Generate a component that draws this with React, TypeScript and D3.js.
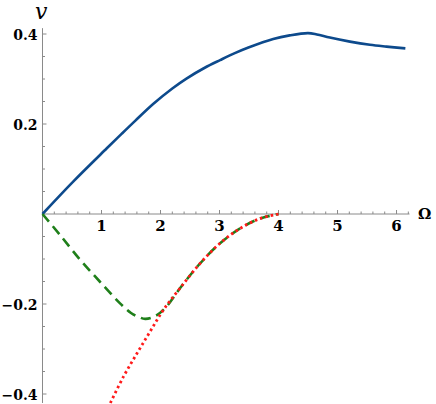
import React from 'react';
import * as d3 from 'd3';

// blue curve
const omegaBlue = [0, 0.52, 1.09, 1.34, 1.57, 1.88, 2.2, 2.44, 2.75, 3.01, 3.25, 3.49, 3.91, 4.19, 4.5, 4.65, 4.87, 5.21, 5.55, 5.83, 6.15];
const vBlue = [0, 0.072, 0.146, 0.178, 0.207, 0.245, 0.279, 0.301, 0.325, 0.342, 0.357, 0.37, 0.389, 0.397, 0.402, 0.399, 0.392, 0.383, 0.376, 0.372, 0.368];

// green dashed curve
const omegaGreen = [0, 0.3, 0.64, 0.97, 1.31, 1.5, 1.6, 1.74, 1.91, 2.1, 2.33, 2.67, 3.01, 3.35, 3.69, 4.0];
const vGreen = [0, -0.047, -0.102, -0.15, -0.198, -0.22, -0.227, -0.233, -0.227, -0.206, -0.165, -0.11, -0.065, -0.032, -0.01, 0];

// red dotted curve
const omegaRed = [1.15, 1.37, 1.6, 1.82, 2.05, 2.33, 2.67, 3.01, 3.35, 3.69, 4.0];
const vRed = [-0.42, -0.362, -0.31, -0.262, -0.213, -0.165, -0.11, -0.065, -0.032, -0.01, 0];

const xTicks = [1, 2, 3, 4, 5, 6];
const yTicks = [-0.4, -0.2, 0.2, 0.4];

const W = 436;
const H = 404;

const App = () => {
    const x = d3.scaleLinear().domain([0, 6.22]).range([42.5, 409.5]);
    const y = d3.scaleLinear().domain([-0.4, 0.4]).range([394, 34]);

    const line = d3.line<[number, number]>()
        .x(d => x(d[0]))
        .y(d => y(d[1]))
        .curve(d3.curveCatmullRom.alpha(0.5));

    const zip = (a: number[], b: number[]) => a.map((v, i) => [v, b[i]] as [number, number]);

    // minor ticks
    const xMinor = d3.range(1, 32).map(i => i * 0.2).filter(v => Math.abs(v - Math.round(v)) > 0.01);
    const yMinor = d3.range(-8, 9).map(i => i * 0.05).filter(v => Math.abs(v * 5 - Math.round(v * 5)) > 0.01);

    const axisColor = '#8a8a8a';
    const font = "'DejaVu Serif', serif";

    return (
        <svg width={W} height={H} style={{ position: 'absolute', left: 0, top: 0 }}>
            <rect width={W} height={H} fill="#fff" />
            {/* axes */}
            <line x1={x(0)} x2={x(6.22)} y1={y(0)} y2={y(0)} stroke={axisColor} strokeWidth={1} />
            <line x1={x(0)} x2={x(0)} y1={y(0.413)} y2={y(-0.42)} stroke={axisColor} strokeWidth={1} />
            {xMinor.map(t => (
                <line key={'xm' + t} x1={x(t)} x2={x(t)} y1={y(0)} y2={y(0) - 2.5} stroke={axisColor} />
            ))}
            {xTicks.map(t => (
                <g key={'x' + t}>
                    <line x1={x(t)} x2={x(t)} y1={y(0)} y2={y(0) - 4} stroke={axisColor} />
                    <text x={x(t)} y={y(0) + 17} textAnchor="middle" style={{ fontFamily: font }} fontWeight="bold" fontSize={15}>{t}</text>
                </g>
            ))}
            {yMinor.map(t => (
                <line key={'ym' + t} x1={x(0)} x2={x(0) + 2.5} y1={y(t)} y2={y(t)} stroke={axisColor} />
            ))}
            {yTicks.map(t => (
                <g key={'y' + t}>
                    <line x1={x(0)} x2={x(0) + 4} y1={y(t)} y2={y(t)} stroke={axisColor} />
                    <text x={x(0) - 5} y={y(t) + 5.5} textAnchor="end" style={{ fontFamily: font }} fontWeight="bold" fontSize={14}>
                        {t < 0 ? '\u2212' + Math.abs(t).toFixed(1) : t.toFixed(1)}
                    </text>
                </g>
            ))}
            <text x={35} y={19} style={{ fontFamily: font }} fontStyle="italic" fontSize={22}>v</text>
            <text x={418} y={219} style={{ fontFamily: font }} fontWeight="bold" fontSize={15}>Ω</text>

            {/* curves */}
            <path d={line(zip(omegaBlue, vBlue)) || ''} fill="none" stroke="#0d4a8c" strokeWidth={2.6} />
            <path d={line(zip(omegaGreen, vGreen)) || ''} fill="none" stroke="#1f7f1a" strokeWidth={2.6} strokeDasharray="10,6" />
            <path d={line(zip(omegaRed, vRed)) || ''} fill="none" stroke="#ff1a1a" strokeWidth={2.8} strokeDasharray="2.5,3" />
        </svg>
    );
};

export default App;
